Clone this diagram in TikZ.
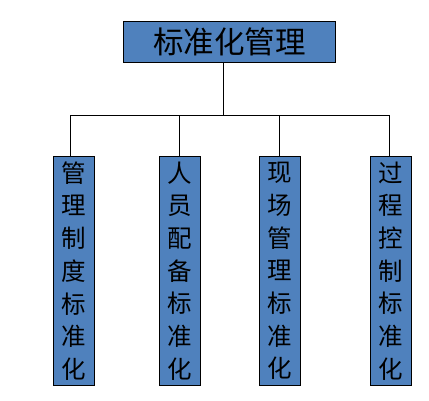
\documentclass[tikz,border=0pt]{standalone}
\usepackage{fontspec}
\setmainfont{Noto Sans CJK SC}
\definecolor{boxblue}{HTML}{4F81BD}
\begin{document}
\begin{tikzpicture}[x=1pt,y=-1pt,
  topbox/.style={draw=black,line width=1pt,fill=boxblue,inner sep=0pt,
    minimum width=212.4pt,minimum height=41pt,font=\fontsize{30.5}{32}\selectfont},
  colbox/.style={draw=black,line width=1pt,fill=boxblue,inner sep=0pt,
    minimum width=41pt,minimum height=228.6pt,align=center,
    font=\fontsize{24.5}{32.7}\selectfont},
  conn/.style={draw=black,line width=1pt}]
\useasboundingbox (0,0) rectangle (429,401);
\node[topbox] (top) at (229.5,41.8) {标准化管理};
\node[colbox] (c1) at (73.8,271) {管\\理\\制\\度\\标\\准\\化};
\node[colbox] (c2) at (179.8,271) {人\\员\\配\\备\\标\\准\\化};
\node[colbox] (c3) at (279.5,271) {现\\场\\管\\理\\标\\准\\化};
\node[colbox] (c4) at (391,271) {过\\程\\控\\制\\标\\准\\化};
\coordinate (bus) at (223.7,115.3);
\coordinate (j1) at (70.3,115.3);
\coordinate (j2) at (179.3,115.3);
\coordinate (j3) at (279.3,115.3);
\coordinate (j4) at (389,115.3);
\draw[conn] (top.south -| bus) -- (bus);
\draw[conn] (j1) -- (j4);
\draw[conn] (j1) -- (j1 |- c1.north);
\draw[conn] (j2) -- (j2 |- c2.north);
\draw[conn] (j3) -- (j3 |- c3.north);
\draw[conn] (j4) -- (j4 |- c4.north);
\end{tikzpicture}
\end{document}
